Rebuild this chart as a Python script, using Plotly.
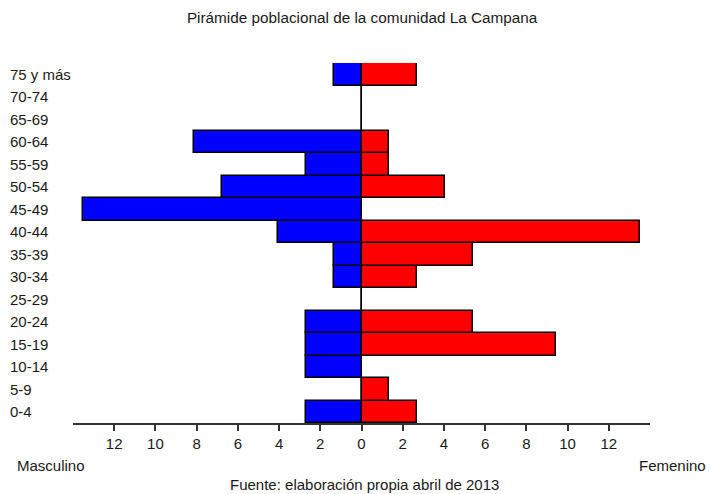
import plotly.graph_objects as go

# age groups from bottom to top
grupos = ["0-4", "5-9", "10-14", "15-19", "20-24", "25-29", "30-34", "35-39",
          "40-44", "45-49", "50-54", "55-59", "60-64", "65-69", "70-74", "75 y más"]

# percentages
masculino = [2.70, 0, 2.70, 2.70, 2.70, 0, 1.35, 1.35,
             4.05, 13.51, 6.76, 2.70, 8.11, 0, 0, 1.35]
femenino = [2.70, 1.35, 0, 9.46, 5.41, 0, 2.70, 5.41,
            13.51, 0, 4.05, 1.35, 1.35, 0, 0, 2.70]

tick_vals = [-12, -10, -8, -6, -4, -2, 0, 2, 4, 6, 8, 10, 12]
tick_text = [str(abs(v)) for v in tick_vals]

FONT = "Liberation Sans, Arial, sans-serif"
TXT = "#1a1a1a"
FS = 15

fig = go.Figure()
fig.add_trace(go.Bar(
    y=grupos, x=[-v for v in masculino], orientation="h", name="Masculino",
    marker=dict(color="#0000ff", line=dict(color="#000000", width=1.5)),
))
fig.add_trace(go.Bar(
    y=grupos, x=femenino, orientation="h", name="Femenino",
    marker=dict(color="#ff0000", line=dict(color="#000000", width=1.5)),
))

# left-aligned category labels
annotations = [
    dict(x=-0.1127, y=g, xref="paper", yref="y", text=g, showarrow=False,
         xanchor="left", yanchor="middle", font=dict(size=FS, color=TXT, family=FONT))
    for g in grupos
]
annotations += [
    dict(x=-0.1, y=-0.117, xref="paper", yref="paper", text="Masculino", showarrow=False,
         xanchor="left", yanchor="middle", font=dict(size=FS, color=TXT, family=FONT)),
    dict(x=1.1, y=-0.117, xref="paper", yref="paper", text="Femenino", showarrow=False,
         xanchor="right", yanchor="middle", font=dict(size=FS, color=TXT, family=FONT)),
    dict(x=0.505, y=-0.172, xref="paper", yref="paper", text="Fuente: elaboración propia abril de 2013",
         showarrow=False, xanchor="center", yanchor="middle",
         font=dict(size=FS, color=TXT, family=FONT)),
]

fig.update_layout(
    width=710, height=494,
    barmode="relative", bargap=0,
    showlegend=False,
    plot_bgcolor="white", paper_bgcolor="white",
    margin=dict(l=73, r=60, t=63, b=71),
    title=dict(text="Pirámide poblacional de la comunidad La Campana", x=0.51, xanchor="center",
               y=0.965, yanchor="middle", font=dict(size=15.3, color=TXT, family=FONT)),
    xaxis=dict(range=[-14, 14], tickvals=tick_vals, ticktext=tick_text,
               showgrid=False, zeroline=True, zerolinecolor="#222222", zerolinewidth=1,
               showline=True, linecolor="#333333", linewidth=1.5,
               ticks="outside", ticklen=6, tickcolor="#333333", tickwidth=1.5,
               tickfont=dict(size=FS, color=TXT, family=FONT), fixedrange=True),
    yaxis=dict(range=[-0.5, 15.5], showticklabels=False, showgrid=False,
               showline=False, ticks="", fixedrange=True),
    annotations=annotations,
)

fig.write_html("out.html", config={"displayModeBar": False},
               post_script="document.body.style.margin='0';")
